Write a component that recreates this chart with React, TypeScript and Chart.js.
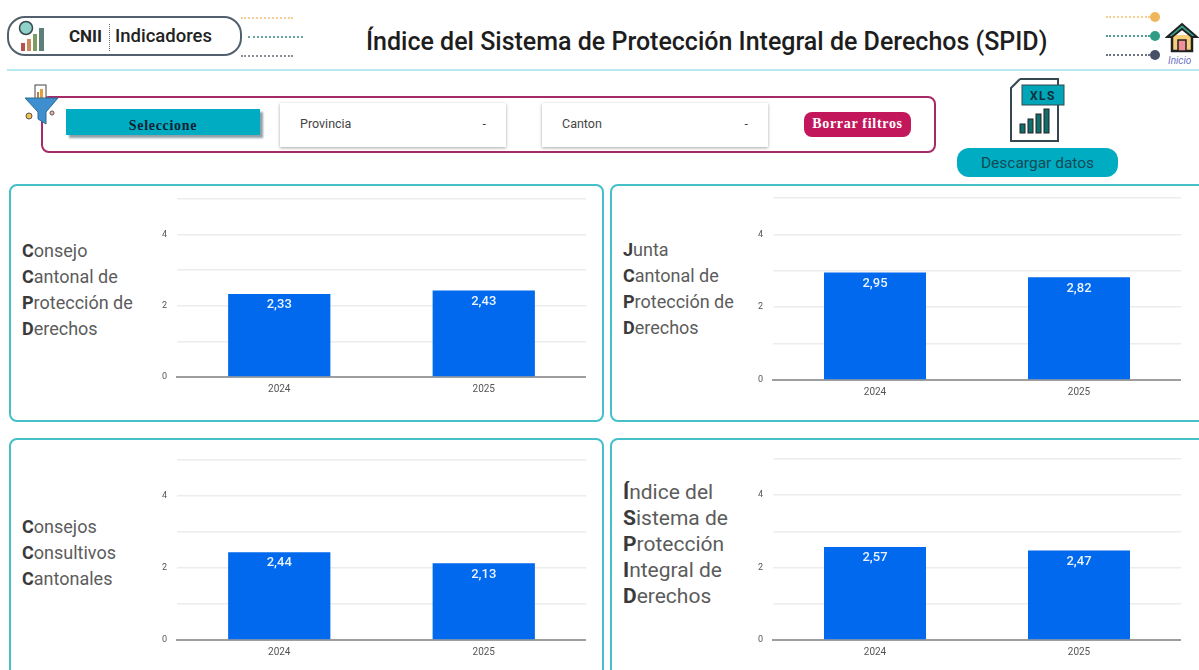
import React, { useEffect, useRef } from "react";
import { Chart, registerables } from "chart.js";

Chart.register(...registerables);

const categories = ["2024", "2025"];
const consejoCantonal = [2.33, 2.43];
const juntaCantonal = [2.95, 2.82];
const consejosConsultivos = [2.44, 2.13];
const indiceSpid = [2.57, 2.47];
const yTickLabels = ["0", "2", "4"];
const mainTitle = "Índice del Sistema de Protección Integral de Derechos (SPID)";

const FONT = "Roboto, sans-serif";
const TEAL = "#00acc1";
const PANEL = "#45bfca";
const BLUE = "#0069ee";

const barLabels = {
  id: "barLabels",
  afterDatasetsDraw(chart: any) {
    const { ctx } = chart;
    const meta = chart.getDatasetMeta(0);
    const data = chart.data.datasets[0].data as number[];
    ctx.save();
    ctx.fillStyle = "#eaf3ff";
    ctx.font = `500 13px ${FONT}`;
    ctx.textAlign = "center";
    ctx.textBaseline = "middle";
    meta.data.forEach((bar: any, i: number) => {
      ctx.fillText(data[i].toFixed(2).replace(".", ","), bar.x, bar.y + 11);
    });
    ctx.restore();
  },
};

function BarPanel({ values, left, top, width, height }: { values: number[]; left: number; top: number; width: number; height: number }) {
  const ref = useRef<HTMLCanvasElement>(null);
  useEffect(() => {
    const chart = new Chart(ref.current!, {
      type: "bar",
      data: {
        labels: categories,
        datasets: [{ data: values, backgroundColor: BLUE, categoryPercentage: 1, barPercentage: 0.5 }],
      },
      options: {
        animation: false,
        responsive: false,
        events: [],
        layout: { padding: { top: 4, right: 0, left: 0, bottom: 0 } },
        plugins: { legend: { display: false }, tooltip: { enabled: false }, title: { display: false } },
        scales: {
          x: {
            grid: { display: false, drawTicks: false },
            border: { color: "#9e9e9e", width: 2 },
            ticks: { color: "#555", font: { family: FONT, size: 10 }, padding: 6, maxRotation: 0 },
            afterFit: (s: any) => { s.height = 30; s.paddingLeft = 0; s.paddingRight = 0; },
          },
          y: {
            min: 0,
            max: 5,
            grid: { color: "#ececec", lineWidth: 1.5, drawTicks: false },
            border: { display: false },
            ticks: {
              stepSize: 1,
              color: "#555",
              padding: 10,
              font: { family: FONT, size: 9 },
              callback: (v: any) => (yTickLabels.includes(String(v)) ? String(v) : ""),
            },
            afterFit: (s: any) => { s.width = 30; s.paddingTop = 0; s.paddingBottom = 0; },
          },
        },
      },
      plugins: [barLabels],
    } as any);
    return () => chart.destroy();
  }, []);
  return <canvas ref={ref} width={width} height={height} style={{ position: "absolute", left, top, width, height }} />;
}

const abs = (left: number, top: number, width: number, height: number, extra: React.CSSProperties = {}): React.CSSProperties => ({
  position: "absolute", left, top, width, height, boxSizing: "border-box", ...extra,
});

function Panel({ left, top, width, height }: { left: number; top: number; width: number; height: number }) {
  return <div style={abs(left, top, width, height, { border: `2px solid ${PANEL}`, borderRadius: 8, background: "#fff" })} />;
}

function Caption({ left, top, lines, size = 18, lh = 26 }: { left: number; top: number; lines: string[]; size?: number; lh?: number }) {
  return (
    <div style={{ position: "absolute", left, top, fontFamily: FONT, fontSize: size, lineHeight: `${lh}px`, color: "#5c5c5c", whiteSpace: "nowrap" }}>
      {lines.map((l) => (
        <div key={l}><b style={{ color: "#3a3a3a", fontWeight: 700 }}>{l[0]}</b>{l.slice(1)}</div>
      ))}
    </div>
  );
}

function Dots({ left, top, width, color }: { left: number; top: number; width: number; color: string }) {
  return <div style={abs(left, top, width, 2, { borderTop: `2px dotted ${color}` })} />;
}

function Dropdown({ left, label }: { left: number; label: string }) {
  return (
    <div style={abs(left, 103, 226, 44, { background: "#fff", boxShadow: "0 1px 3px rgba(0,0,0,.35)", fontFamily: FONT, fontSize: 12.5, color: "#444" })}>
      <span style={{ position: "absolute", left: 20, top: 13 }}>{label}</span>
      <span style={{ position: "absolute", right: 20, top: 13 }}>-</span>
    </div>
  );
}

export default function App() {
  return (
    <div style={{ position: "fixed", left: 0, top: 0, width: 1199, height: 670, overflow: "hidden", background: "#fff", fontFamily: FONT, filter: "blur(0.4px)" }}>
      {/* logo pill */}
      <div style={abs(7, 16, 235, 40, { border: "2px solid #52606d", borderRadius: 18 })} />
      <svg style={{ position: "absolute", left: 15, top: 20 }} width="34" height="32" viewBox="0 0 34 32">
        <circle cx="11" cy="8" r="6.5" fill="#8fd0c8" stroke="#37474f" strokeWidth="1.5" />
        <rect x="6" y="23" width="4" height="8" fill="#b5524b" />
        <rect x="12" y="19" width="4" height="12" fill="#c98b5a" />
        <rect x="18" y="14" width="4" height="17" fill="#7d9c62" />
        <rect x="24" y="8" width="5" height="23" fill="#5d7f7a" />
      </svg>
      <div style={{ position: "absolute", left: 69, top: 26, fontSize: 17, fontWeight: 700, color: "#222" }}>CNII</div>
      <div style={abs(109, 24, 1, 27, { borderLeft: "1px dotted #666" })} />
      <div style={{ position: "absolute", left: 115, top: 26, fontSize: 18.5, lineHeight: "20px", fontWeight: 500, color: "#222" }}>Indicadores</div>
      <Dots left={241} top={17} width={52} color="#f3cf94" />
      <Dots left={248} top={36} width={55} color="#6aa6a0" />
      <Dots left={241} top={55} width={52} color="#8a8f99" />

      <div style={{ position: "absolute", left: 366, top: 27, fontSize: 25, fontWeight: 500, color: "#1d1d1d", whiteSpace: "nowrap" }}>{mainTitle}</div>

      {/* top right */}
      <Dots left={1106} top={16} width={44} color="#f3cf94" />
      <Dots left={1106} top={35} width={44} color="#4f9d92" />
      <Dots left={1106} top={54} width={44} color="#6d7480" />
      <div style={abs(1150, 12, 10, 10, { borderRadius: 5, background: "#f2b65a" })} />
      <div style={abs(1150, 31, 10, 10, { borderRadius: 5, background: "#2f9d85" })} />
      <div style={abs(1150, 50, 10, 10, { borderRadius: 5, background: "#465066" })} />
      <svg style={{ position: "absolute", left: 1165, top: 20 }} width="34" height="34" viewBox="0 0 34 34">
        <path d="M7 15 V31 H27 V15" fill="#f7cf7a" stroke="#222" strokeWidth="2.5" />
        <path d="M2 17 L17 4 L32 17 L27 17 L17 9 L7 17 Z" fill="#37a58c" stroke="#222" strokeWidth="2" />
        <rect x="13" y="20" width="8" height="11" fill="#ee8f9b" stroke="#222" strokeWidth="1.5" />
      </svg>
      <div style={{ position: "absolute", left: 1168, top: 55, fontSize: 10, fontStyle: "italic", color: "#6a6fc4" }}>Inicio</div>

      <div style={abs(7, 69, 1192, 2, { background: "#b5e9ee" })} />

      {/* filter bar */}
      <div style={abs(41, 96, 895, 57, { border: "2px solid #a42a68", borderRadius: 8, background: "#fff" })} />
      <svg style={{ position: "absolute", left: 22, top: 83 }} width="42" height="44" viewBox="0 0 42 44">
        <rect x="13" y="2" width="11" height="15" fill="#fff" stroke="#444" />
        <rect x="15" y="9" width="2" height="6" fill="#c27b42" />
        <rect x="18" y="6" width="3" height="9" fill="#e0a13b" />
        <path d="M3 15 H36 L24 29 V41 L16 36 V29 Z" fill="#3f8fd0" stroke="#2f6f8f" />
        <circle cx="7" cy="33" r="3" fill="#f0c24a" stroke="#555" />
        <circle cx="30" cy="30" r="2" fill="#f5b5a5" stroke="#555" />
      </svg>
      <div style={abs(66, 109, 194, 26, { background: TEAL, boxShadow: "3px 3px 2px #8fa0a8", fontFamily: "'Liberation Serif', serif", fontWeight: 700, fontSize: 14, letterSpacing: 0.7, color: "#123", textAlign: "center", lineHeight: "34px" })}>Seleccione</div>
      <Dropdown left={280} label="Provincia" />
      <Dropdown left={542} label="Canton" />
      <div style={abs(804, 112, 107, 25, { background: "#c2185b", borderRadius: 8, fontFamily: "'Liberation Serif', serif", fontWeight: 700, fontSize: 14, letterSpacing: 0.7, color: "#fff", textAlign: "center", lineHeight: "24px" })}>Borrar filtros</div>

      {/* xls */}
      <svg style={{ position: "absolute", left: 1008, top: 76 }} width="60" height="68" viewBox="0 0 60 68">
        <path d="M12 3 H50 V50 M12 3 L3 12 V65 H50 V50" fill="#fff" stroke="#37474f" strokeWidth="2" />
        <rect x="14" y="9" width="42" height="20" fill="#00a5b8" stroke="#37474f" />
        <text x="35" y="24" textAnchor="middle" fontFamily={FONT} fontWeight="700" fontSize="12" letterSpacing="1.5" fill="#10303a">XLS</text>
        <rect x="12" y="48" width="5" height="9" fill="#0f6f6c" stroke="#222" />
        <rect x="20" y="43" width="5" height="14" fill="#0f6f6c" stroke="#222" />
        <rect x="28" y="38" width="5" height="19" fill="#0f6f6c" stroke="#222" />
        <rect x="36" y="33" width="5" height="24" fill="#0f6f6c" stroke="#222" />
      </svg>
      <div style={abs(957, 148, 161, 29, { background: TEAL, borderRadius: 12, fontSize: 15.5, color: "#124a56", textAlign: "center", lineHeight: "31px" })}>Descargar datos</div>

      {/* panels */}
      <Panel left={9} top={184} width={595} height={238} />
      <Panel left={610} top={184} width={600} height={238} />
      <Panel left={9} top={438} width={595} height={240} />
      <Panel left={610} top={438} width={600} height={240} />

      <Caption left={22} top={238} lines={["Consejo", "Cantonal de", "Protección de", "Derechos"]} />
      <Caption left={623} top={237} lines={["Junta", "Cantonal de", "Protección de", "Derechos"]} />
      <Caption left={22} top={514} lines={["Consejos", "Consultivos", "Cantonales"]} />
      <Caption left={623} top={479} size={21} lh={26} lines={["Índice del", "Sistema de", "Protección", "Integral de", "Derechos"]} />

      <BarPanel values={consejoCantonal} left={147} top={195} width={439} height={212} />
      <BarPanel values={juntaCantonal} left={743} top={194} width={438} height={216} />
      <BarPanel values={consejosConsultivos} left={147} top={456} width={439} height={214} />
      <BarPanel values={indiceSpid} left={743} top={455} width={438} height={215} />
    </div>
  );
}
